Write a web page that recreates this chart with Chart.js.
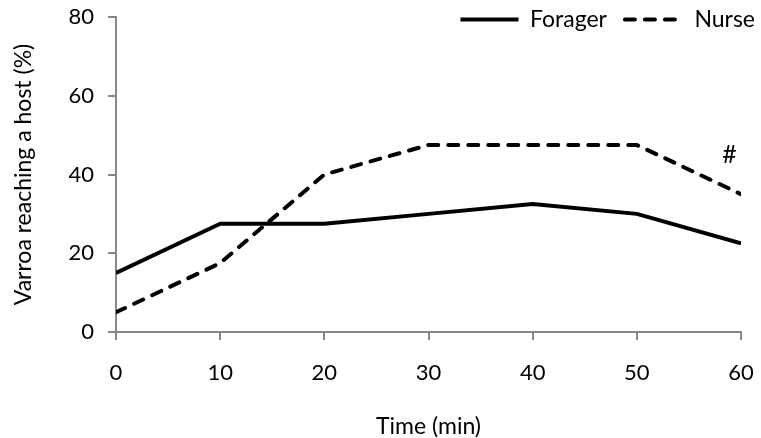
<!DOCTYPE html>
<html>
<head>
<meta charset="utf-8">
<script src="https://cdn.jsdelivr.net/npm/chart.js@4/dist/chart.umd.min.js"></script>
<style>
    html, body { margin: 0; padding: 0; background: #fff; }
    #wrap { width: 761px; height: 438px; }
</style>
</head>
<body>
<div id="wrap"><canvas id="hostChart" width="761" height="438"></canvas></div>
<script>
// ========== DATA ==========
const times = [0, 10, 20, 30, 40, 50, 60];               // Time (min)
const forager = [15, 27.5, 27.5, 30, 32.5, 30, 22.5];     // % reaching a host
const nurse = [5, 17.5, 40, 47.5, 47.5, 47.5, 35];
const seriesLabels = ['Forager', 'Nurse'];
const xTitle = 'Time (min)';
const yTitle = 'Varroa reaching a host (%)';
const markText = '#';
const markAt = [58.9, 45];                               // where the # sits (data coords)
// ==========================

const FONT = 'Lato, "Open Sans", sans-serif';
const AXIS_GREY = '#878787';

function toPoints(values) {
    return times.map((t, i) => ({ x: t, y: values[i] }));
}

// Legend sits inside the plot at the top right, so it must not take layout space
const legendInPlot = {
    id: 'legendInPlot',
    beforeLayout(chart) {
        const lg = chart.legend;
        if (!lg || lg.$wrapped) return;
        const fit = lg.fit;
        lg.fit = function () {
            fit.call(this);
            this.$realHeight = this.height;
            this.height = 0;
        };
        lg.$wrapped = true;
    },
    afterLayout(chart) {
        const lg = chart.legend;
        if (!lg) return;
        lg.top = -10;
        lg.height = lg.$realHeight;
        lg.bottom = lg.top + lg.height;
        lg.left += 32;
        lg.right += 32;
    }
};

// the "#" marker next to the last Nurse point
const hashMark = {
    id: 'hashMark',
    afterDatasetsDraw(chart) {
        const { ctx, scales } = chart;
        ctx.save();
        ctx.font = '25px ' + FONT;
        ctx.fillStyle = '#000';
        ctx.textAlign = 'center';
        ctx.textBaseline = 'middle';
        ctx.fillText(markText, scales.x.getPixelForValue(markAt[0]), scales.y.getPixelForValue(markAt[1]));
        ctx.restore();
    }
};

new Chart(document.getElementById('hostChart'), {
    type: 'line',
    data: {
        datasets: [
            {
                label: seriesLabels[0],
                data: toPoints(forager),
                borderColor: '#000',
                backgroundColor: '#000',
                borderWidth: 4,
                borderJoinStyle: 'round',
                pointRadius: 0,
                tension: 0
            },
            {
                label: seriesLabels[1],
                data: toPoints(nurse),
                borderColor: '#000',
                backgroundColor: '#000',
                borderWidth: 4,
                borderDash: [10, 10],
                borderCapStyle: 'round',
                borderJoinStyle: 'round',
                pointRadius: 0,
                tension: 0
            }
        ]
    },
    options: {
        responsive: false,
        animation: false,
        layout: { padding: { top: 17, right: 20, bottom: 0, left: 0 } },
        plugins: {
            tooltip: { enabled: false },
            legend: {
                display: true,
                position: 'top',
                align: 'end',
                labels: {
                    usePointStyle: true,
                    pointStyle: 'line',
                    pointStyleWidth: 58,
                    boxHeight: 22,
                    padding: 18,
                    color: '#000',
                    font: { family: FONT, size: 23 },
                    generateLabels(chart) {
                        const items = Chart.defaults.plugins.legend.labels.generateLabels(chart);
                        items.forEach(item => {
                            const ds = chart.data.datasets[item.datasetIndex];
                            item.lineDash = ds.borderDash || [];
                            item.lineCap = ds.borderCapStyle || 'butt';
                            item.lineWidth = ds.borderWidth;
                            item.strokeStyle = ds.borderColor;
                        });
                        return items;
                    }
                }
            }
        },
        scales: {
            x: {
                type: 'linear',
                min: 0,
                max: 60,
                afterFit: (s) => { s.height = 106; s.paddingLeft = 0; s.paddingRight = 0; },
                ticks: {
                    stepSize: 10,
                    color: '#000',
                    padding: 20,
                    font: { family: FONT, size: 22 }
                },
                grid: {
                    drawOnChartArea: false,
                    drawTicks: true,
                    tickLength: 8,
                    color: AXIS_GREY,
                    lineWidth: 2
                },
                border: { color: AXIS_GREY, width: 2 },
                title: {
                    display: true,
                    text: xTitle,
                    color: '#000',
                    padding: { top: 0, bottom: 0 },
                    font: { family: FONT, size: 23, lineHeight: 1 }
                }
            },
            y: {
                min: 0,
                max: 80,
                afterFit: (s) => { s.width = 116; s.paddingTop = 0; s.paddingBottom = 0; },
                ticks: {
                    stepSize: 20,
                    color: '#000',
                    padding: 14,
                    font: { family: FONT, size: 22 }
                },
                grid: {
                    drawOnChartArea: false,
                    drawTicks: true,
                    tickLength: 8,
                    color: AXIS_GREY,
                    lineWidth: 2
                },
                border: { color: AXIS_GREY, width: 2 },
                title: {
                    display: true,
                    text: yTitle,
                    color: '#000',
                    padding: { top: 10, bottom: 0 },
                    font: { family: FONT, size: 23, lineHeight: 1.2 }
                }
            }
        }
    },
    plugins: [legendInPlot, hashMark]
});
</script>
</body>
</html>
